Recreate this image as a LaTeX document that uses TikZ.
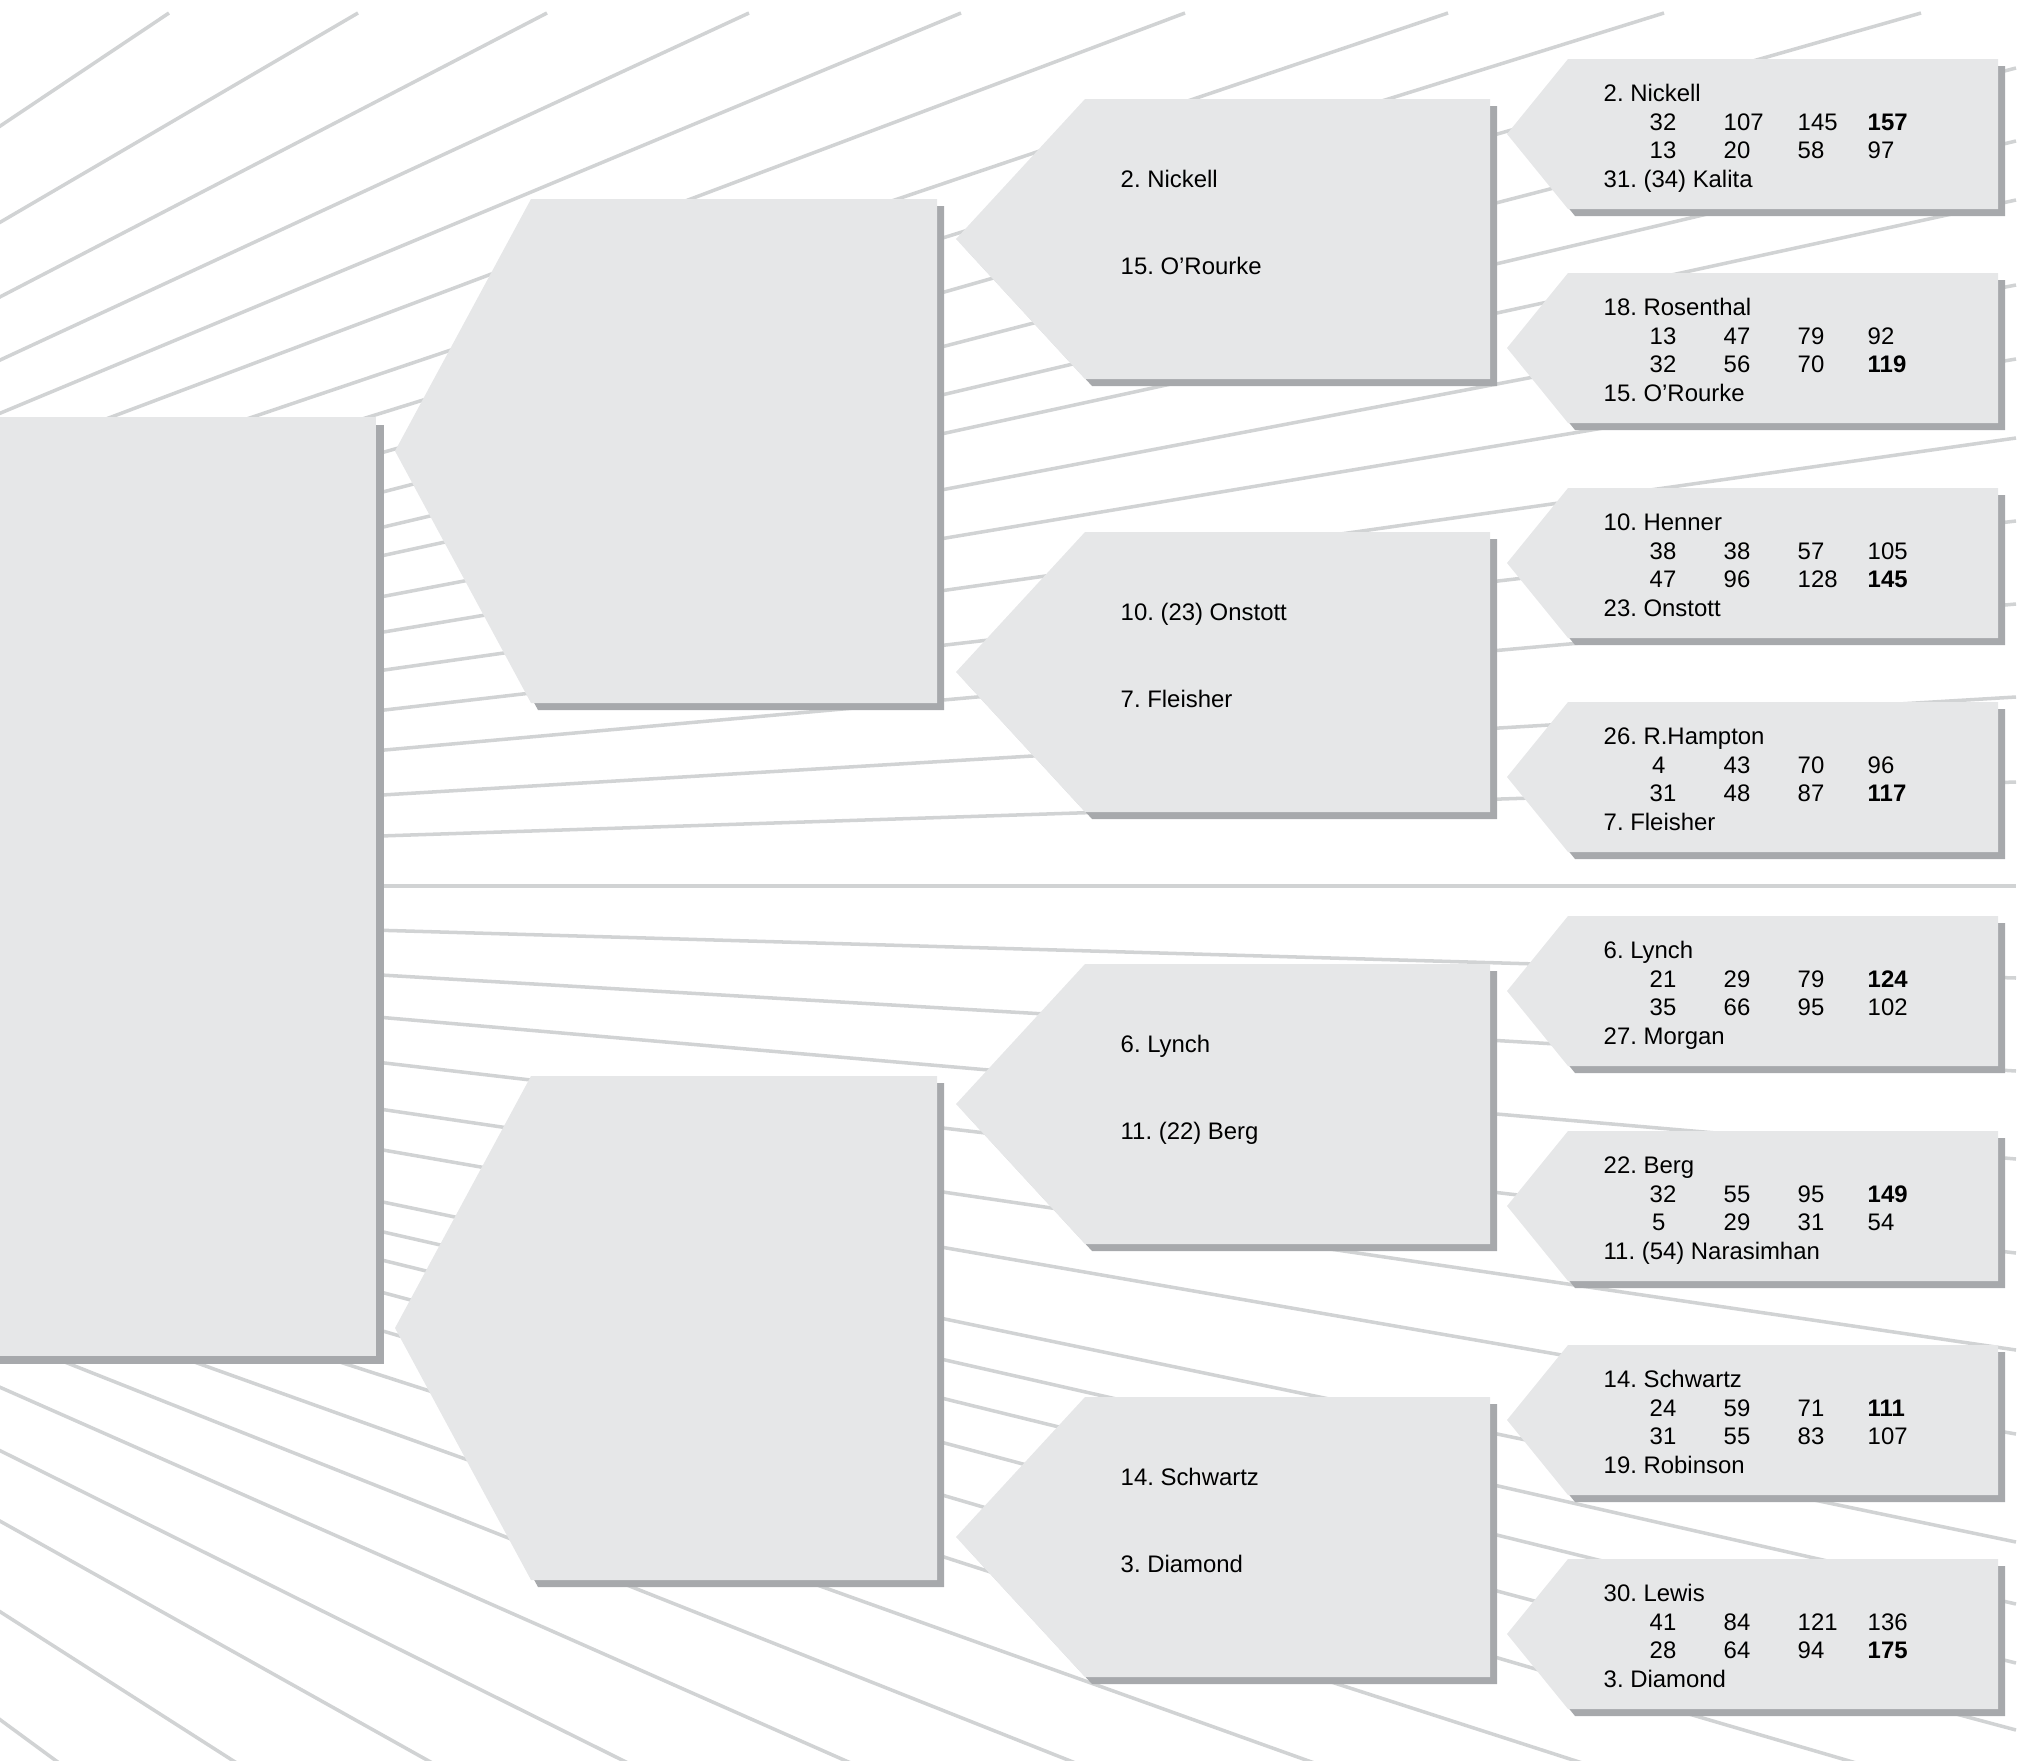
\documentclass[tikz,border=0pt]{standalone}
\usepackage{fontspec}
\setmainfont{Liberation Sans}
\frenchspacing
\usetikzlibrary{positioning}
\definecolor{panel}{RGB}{230,231,232}
\definecolor{drop}{RGB}{167,169,172}
\definecolor{raygray}{RGB}{209,211,212}

\tikzset{
  seed/.style={font=\fontsize{6.8}{8.2}\selectfont, anchor=base west, inner sep=0pt},
  spoke/.style={draw=raygray, line width=1pt},
}

% bracket panel: tip x, flat x, right x, top, bottom
\newcommand{\bracketpanel}[5]{%
  \fill[drop,shift={(7,7)}] (#1,{(#4+#5)/2}) -- (#2,#4) -- (#3,#4) -- (#3,#5) -- (#2,#5) -- cycle;
  \fill[panel] (#1,{(#4+#5)/2}) -- (#2,#4) -- (#3,#4) -- (#3,#5) -- (#2,#5) -- cycle;}

\begin{document}
\begin{tikzpicture}[x=0.01cm,y=-0.01cm]
			\useasboundingbox (0,0) rectangle (2042,1760);
			% sunburst behind the bracket
			\coordinate (sun) at (-1135,886);
			\foreach \x in {169,358,547,749,961,1185,1448,1664,1921}
				\draw[spoke] (sun) -- (\x,13);
			\foreach \y in {68,141,200,285,359,438,521,604,697,782,886,978,1071,1159,1253,1350,1434,1542,1604,1663,1730}
				\draw[spoke] (sun) -- (2016,\y);
			\foreach \x in {1846,1573,1306,1068,844,622,427,232,55}
				\draw[spoke,shorten >=-0.4cm] (sun) -- (\x,1760);
			% final panel
			\fill[drop] (-20,425) rectangle (384,1364);
			\fill[panel] (-20,417) rectangle (376,1356);
			% semifinal panels
			\bracketpanel{395}{531}{937}{199}{703}
			\bracketpanel{395}{531}{937}{1076}{1580}
			% quarterfinal panels
			\foreach \ytop/\nameA/\nameB [count=\i] in {99/{2. Nickell}/{15. O’Rourke},
					532/{10. (23) Onstott}/{7. Fleisher},
					964/{6. Lynch}/{11. (22) Berg},
					1397/{14. Schwartz}/{3. Diamond}}{
				\bracketpanel{956}{1085}{1490}{\ytop}{\ytop+280}
				\node[seed] (q\i a) at (1120,\ytop+88) {\nameA};
				\node[seed] (q\i b) at (1120,\ytop+175) {\nameB};
			}
			% first round panels with scores
			\foreach \ytop/\nameA/\rowA/\rowB/\nameB [count=\i] in {
					59/{2. Nickell}/{32,107,145,\textbf{157}}/{13,20,58,97}/{31. (34) Kalita},
					273/{18. Rosenthal}/{13,47,79,92}/{32,56,70,\textbf{119}}/{15. O’Rourke},
					488/{10. Henner}/{38,38,57,105}/{47,96,128,\textbf{145}}/{23. Onstott},
					702/{26. R.Hampton}/{{\hspace*{0.25mm}4},43,70,96}/{31,48,87,\textbf{117}}/{7. Fleisher},
					916/{6. Lynch}/{21,29,79,\textbf{124}}/{35,66,95,102}/{27. Morgan},
					1131/{22. Berg}/{32,55,95,\textbf{149}}/{{\hspace*{0.25mm}5},29,31,54}/{11. (54) Narasimhan},
					1345/{14. Schwartz}/{24,59,71,\textbf{111}}/{31,55,83,107}/{19. Robinson},
					1559/{30. Lewis}/{41,84,121,136}/{28,64,94,\textbf{175}}/{3. Diamond}}{
				\bracketpanel{1507}{1568}{1998}{\ytop}{\ytop+150}
				\node[seed] (r\i a) at (1603,\ytop+42) {\nameA};
				\foreach \v [count=\k] in \rowA {
					\pgfmathsetmacro{\cx}{{1649,1723,1797,1867}[\k-1]}
					\node[seed] (r\i s\k) at (\cx,\ytop+71) {\v};
				}
				\foreach \v [count=\k] in \rowB {
					\pgfmathsetmacro{\cx}{{1649,1723,1797,1867}[\k-1]}
					\node[seed] (r\i t\k) at (\cx,\ytop+99) {\v};
				}
				\node[seed] (r\i b) at (1603,\ytop+128) {\nameB};
			}
		\end{tikzpicture}
\end{document}
